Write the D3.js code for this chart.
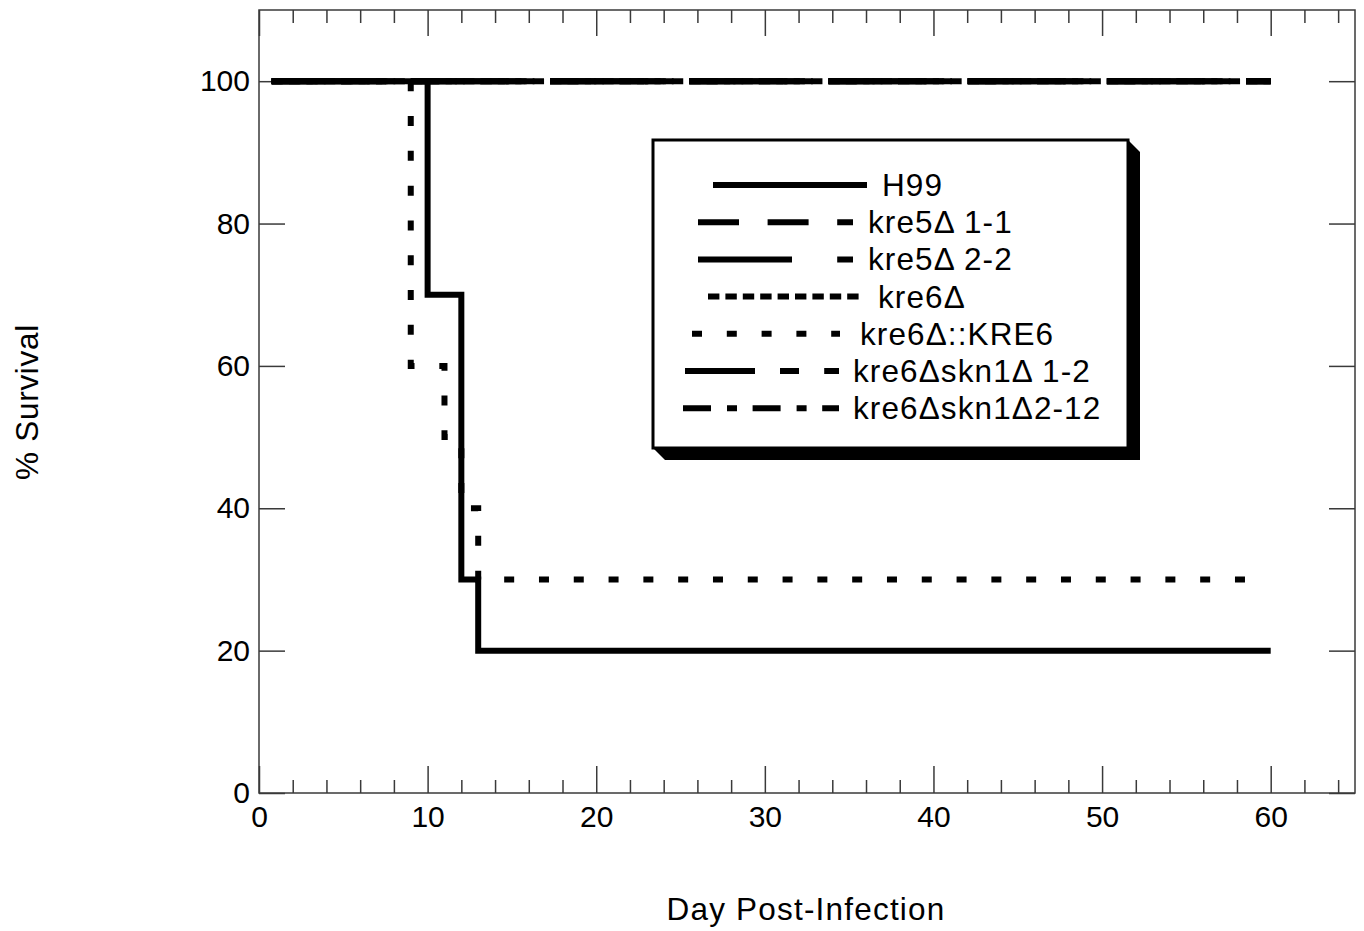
<!DOCTYPE html>
<html>
<head>
<meta charset="utf-8">
<script src="https://cdn.jsdelivr.net/npm/d3@7"></script>
<style>
  body { margin: 0; background: #fff; }
  svg text { font-family: "Liberation Sans", Arial, Helvetica, sans-serif; fill: #000; }
</style>
</head>
<body>
<svg id="chart" width="1364" height="931"></svg>
<script>
// survival data (day, % survival) - step curves
const seriesNames = ['H99', 'kre5\u0394 1-1', 'kre5\u0394 2-2', 'kre6\u0394', 'kre6\u0394::KRE6', 'kre6\u0394skn1\u0394 1-2', 'kre6\u0394skn1\u03942-12']
const h99Day = [0.75, 10, 12, 13, 60]
const h99Pct = [100, 70, 30, 20, 20]
const kre5a11Day = [0.75, 60]
const kre5a11Pct = [100, 100]
const kre5a22Day = [0.75, 60]
const kre5a22Pct = [100, 100]
const kre6Day = [0.75, 60]
const kre6Pct = [100, 100]
const kre6RecDay = [0.75, 9, 11, 12, 13, 59]
const kre6RecPct = [100, 60, 50, 40, 30, 30]
const skn12Day = [0.75, 60]
const skn12Pct = [100, 100]
const skn212Day = [0.75, 60]
const skn212Pct = [100, 100]

const xMajor = [0, 10, 20, 30, 40, 50, 60]
const yMajor = [0, 20, 40, 60, 80, 100]

// line styles (px)
const dashes = ['none', '41,28.6', '94,45.2', '11.4,6', '10,24.8', '70,25,19,25.2', '28,16,10,15.6']

const series = [
  [h99Day, h99Pct], [kre5a11Day, kre5a11Pct], [kre5a22Day, kre5a22Pct], [kre6Day, kre6Pct],
  [kre6RecDay, kre6RecPct], [skn12Day, skn12Pct], [skn212Day, skn212Pct]
].map((s, i) => ({name: seriesNames[i], dash: dashes[i], pts: s[0].map((d, j) => [d, s[1][j]])}))

const svg = d3.select('#chart')
const plotLeft = 259, plotRight = 1355, plotTop = 10, plotBottom = 793

const x = d3.scaleLinear().domain([0, 65]).range([plotLeft, plotRight])
const y = d3.scaleLinear().domain([0, 110]).range([plotBottom, plotTop])

const xMinor = d3.range(2, 65, 2).filter(d => d % 10 !== 0)

const axisColor = '#3a3a3a'
const styleAxis = g => {
  g.select('.domain').remove()
  g.selectAll('.tick line').attr('stroke', axisColor).attr('stroke-width', 1.5)
  g.selectAll('.tick text').attr('font-size', 30).attr('fill', '#000')
}

// bottom
svg.append('g').attr('transform', `translate(0,${plotBottom})`)
  .call(d3.axisBottom(x).tickValues(xMajor).tickSize(-27).tickPadding(13).tickFormat(d3.format('d')))
  .call(styleAxis)
svg.append('g').attr('transform', `translate(0,${plotBottom})`)
  .call(d3.axisBottom(x).tickValues(xMinor).tickSize(-13).tickFormat(''))
  .call(styleAxis)
// top
svg.append('g').attr('transform', `translate(0,${plotTop})`)
  .call(d3.axisTop(x).tickValues(xMajor).tickSize(-26).tickFormat(''))
  .call(styleAxis)
svg.append('g').attr('transform', `translate(0,${plotTop})`)
  .call(d3.axisTop(x).tickValues(xMinor).tickSize(-13).tickFormat(''))
  .call(styleAxis)
// left
svg.append('g').attr('transform', `translate(${plotLeft},0)`)
  .call(d3.axisLeft(y).tickValues(yMajor).tickSize(-26).tickPadding(9).tickFormat(d3.format('d')))
  .call(styleAxis)
// right
svg.append('g').attr('transform', `translate(${plotRight},0)`)
  .call(d3.axisRight(y).tickValues(yMajor).tickSize(-26).tickFormat(''))
  .call(styleAxis)

svg.append('rect')
  .attr('x', plotLeft).attr('y', plotTop)
  .attr('width', plotRight - plotLeft).attr('height', plotBottom - plotTop)
  .attr('fill', 'none').attr('stroke', axisColor).attr('stroke-width', 1.5)

// curves
const line = d3.line().x(d => x(d[0])).y(d => y(d[1])).curve(d3.curveStepAfter)
svg.append('g').attr('class', 'curves')
  .selectAll('path').data(series).join('path')
  .attr('d', d => line(d.pts))
  .attr('fill', 'none')
  .attr('stroke', '#000')
  .attr('stroke-width', 6)
  .attr('stroke-dasharray', d => d.dash)

// axis titles
svg.append('text')
  .attr('x', 806).attr('y', 920)
  .attr('text-anchor', 'middle').attr('font-size', 31.5).attr('letter-spacing', 1.2)
  .text('Day Post-Infection')
svg.append('text')
  .attr('transform', 'translate(38,402) rotate(-90)')
  .attr('text-anchor', 'middle').attr('font-size', 31.5).attr('letter-spacing', 0.7)
  .text('% Survival')

// legend
const lg = {x0: 653, y0: 140, x1: 1128, y1: 448, sh: 12}
const legend = svg.append('g').attr('class', 'legend')
legend.append('polygon')
  .attr('points', [[lg.x1, lg.y0], [lg.x1 + lg.sh, lg.y0 + lg.sh], [lg.x1 + lg.sh, lg.y1 + lg.sh],
    [lg.x0 + lg.sh, lg.y1 + lg.sh], [lg.x0, lg.y1]].map(p => p.join(',')).join(' '))
  .attr('fill', '#000')
legend.append('rect')
  .attr('x', lg.x0).attr('y', lg.y0)
  .attr('width', lg.x1 - lg.x0).attr('height', lg.y1 - lg.y0)
  .attr('fill', '#fff').attr('stroke', '#000').attr('stroke-width', 3)

// per-row sample start/end and text x
const legendSampleX = [[713, 867], [698, 853], [698, 853], [708, 859], [692, 840], [685, 839], [683, 839]]
const legendTextX = [882, 868, 868, 878, 860, 853, 853]

const rows = legend.selectAll('g.row').data(series).join('g')
  .attr('class', 'row')
  .attr('transform', (d, i) => `translate(0,${185 + i * 37.2})`)
rows.append('line')
  .attr('x1', (d, i) => legendSampleX[i][0])
  .attr('x2', (d, i) => legendSampleX[i][1])
  .attr('stroke', '#000').attr('stroke-width', 6)
  .attr('stroke-dasharray', d => d.dash)
rows.append('text')
  .attr('x', (d, i) => legendTextX[i])
  .attr('y', 11)
  .attr('font-size', 31.5)
  .attr('letter-spacing', 1.1)
  .text(d => d.name)
</script>
</body>
</html>
